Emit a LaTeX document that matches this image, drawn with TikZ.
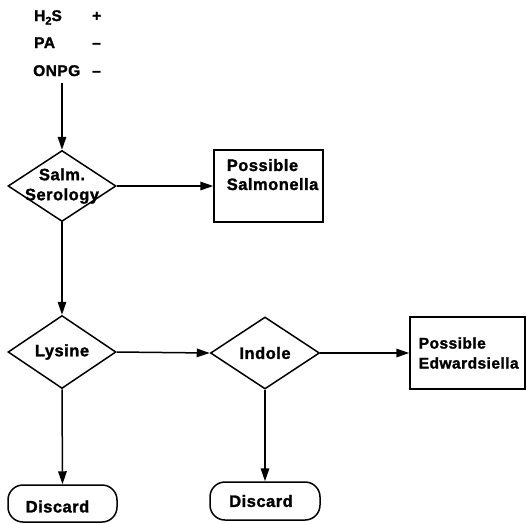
\documentclass[tikz,border=0pt]{standalone}
\usepackage{fontspec}
\setmainfont{Liberation Sans}[BoldFeatures={FakeBold=1.6,LetterSpace=3}]
\usetikzlibrary{shapes.geometric,arrows.meta}
\begin{document}
\begin{tikzpicture}[x=1pt,y=-1pt,
  every node/.style={font=\bfseries\fontsize{16.5}{19}\selectfont},
  decision/.style={draw,shape=diamond,inner sep=0pt,line width=1.5pt},
  resultbox/.style={draw,rectangle,inner sep=0pt,line width=1.5pt},
  endbox/.style={draw,rectangle,rounded corners=15pt,inner sep=0pt,line width=1.5pt},
  toplabel/.style={anchor=base west,inner sep=0pt,font=\bfseries\fontsize{15.5}{18}\selectfont},
  flow/.style={line width=1.5pt,-{Triangle[length=13pt,width=8.5pt]}}]
\useasboundingbox (0,0) rectangle (526,523);

% test results
\node[toplabel] (h2s) at (34,21) {H\raisebox{-3.5pt}{\fontsize{11}{12}\selectfont 2}S};
\node[toplabel] (h2sres) at (92,21) {+};
\node[toplabel] (pa) at (34,48) {PA};
\node[toplabel] (pares) at (92,48) {\char"2013};
\node[toplabel] (onpg) at (33,76) {ONPG};
\node[toplabel] (onpgres) at (92,76) {\char"2013};
\coordinate (start) at (62,83);

% decisions
\node[decision,minimum width=108pt,minimum height=71pt,
  label={[align=center,font=\bfseries\fontsize{16.5}{20}\selectfont]center:Salm.\\Serology}] (salm) at (62,186) {};
\node[decision,minimum width=108pt,minimum height=73pt,
  label={center:Lysine}] (lys) at (62,352) {};
\node[decision,minimum width=109pt,minimum height=72pt,
  label={center:Indole}] (ind) at (265,353) {};

% outcomes
\node[resultbox,minimum width=109pt,minimum height=72pt,
  label={[align=left,anchor=west,font=\bfseries\fontsize{16.5}{19}\selectfont]west:\hspace*{10pt}Possible\\\hspace*{10pt}Salmonella\\[4pt]}] (salmo) at (268.5,186) {};
\node[resultbox,minimum width=115pt,minimum height=72pt,
  label={[align=left,anchor=west,font=\bfseries\fontsize{15.5}{20}\selectfont]west:\hspace*{6pt}Possible\\\hspace*{6pt}Edwardsiella}] (edw) at (467.5,353) {};
\node[endbox,minimum width=109pt,minimum height=37pt,
  label={[xshift=-5pt,yshift=-3pt]center:Discard}] (disc1) at (62.5,503.5) {};
\node[endbox,minimum width=110pt,minimum height=38pt,
  label={[xshift=-4pt]center:Discard}] (disc2) at (265,501) {};

% connectors
\draw[flow] (start) -- (salm.north);
\draw[flow] (salm.east) -- (salmo.west);
\draw[flow] (salm.south) -- (lys.north);
\draw[flow] (lys.east) -- (ind.west);
\draw[flow] (ind.east) -- (edw.west);
\draw[flow] (lys.south) -- (disc1.north);
\draw[flow] (ind.south) -- (disc2.north);
\end{tikzpicture}
\end{document}
